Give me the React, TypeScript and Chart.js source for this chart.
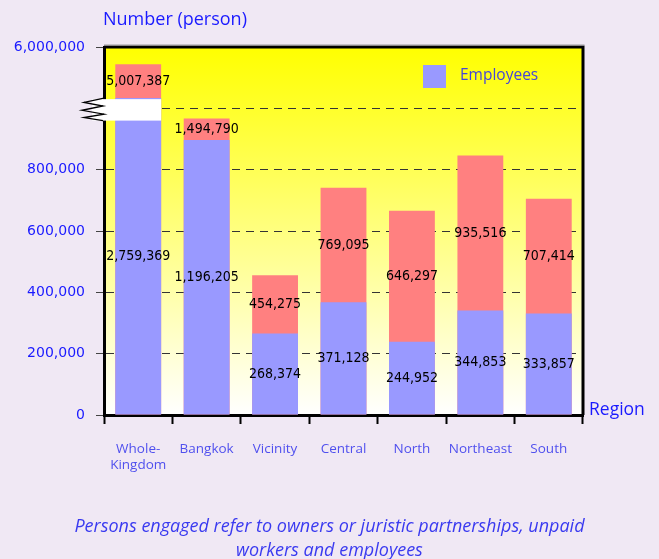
import { useEffect, useRef } from 'react';
import { Chart, registerables } from 'chart.js';

Chart.register(...registerables);

// ---------- data ----------
const categories: (string | string[])[] = [['Whole-', 'Kingdom'], 'Bangkok', 'Vicinity', 'Central', 'North', 'Northeast', 'South'];

// values printed on the bars
const personsEngaged = [5007387, 1494790, 454275, 769095, 646297, 935516, 707414];
const employees = [2759369, 1196205, 268374, 371128, 244952, 344853, 333857];

// bar heights as drawn on the original (broken, not-to-scale) axis
const personsEngagedBar = [1144000, 967000, 456000, 741000, 666000, 846000, 705000];
const employeesBar = [1034000, 897000, 266000, 368000, 239000, 341000, 331000];

// axis
const axisMin = 0;
const axisMax = 1200000;
const axisStep = 200000;
const breakValue = 1000000;
const topTickLabel = '6,000,000';
const breakBand = [960000, 1030000];

const seriesNames = ['Employees', 'Persons engaged'];
const yTitle = 'Number (person)';
const xTitle = 'Region';
const captionLines = ['Persons engaged refer to owners or juristic partnerships, unpaid', 'workers and employees'];

// ---------- styles ----------
const BLUE_BAR = '#9999FF';
const RED_BAR = '#FF8080';
const PAGE_BG = '#F0E8F4';
const AXIS_BLUE = '#1A1AFF';
const LABEL_BLUE = '#5050EE';
const VALUE_FONT = '"DejaVu Sans Condensed", "Liberation Sans", sans-serif';
const SANS = '"Open Sans", "Noto Sans", sans-serif';

const fmt = (v: number) => v.toLocaleString('en-US');

const decorPlugin = {
  id: 'decor',
  beforeDraw(chart: any) {
    const { ctx, chartArea: a } = chart;
    ctx.save();
    const g = ctx.createLinearGradient(0, a.top, 0, a.bottom);
    g.addColorStop(0, '#FFFF00');
    g.addColorStop(1, '#FFFFFF');
    ctx.fillStyle = g;
    ctx.fillRect(a.left, a.top, a.right - a.left, a.bottom - a.top);
    ctx.restore();
  },
  afterDatasetsDraw(chart: any) {
    const { ctx, chartArea: a, scales } = chart;
    const y = scales.y;
    const blueMeta = chart.getDatasetMeta(0);
    const redMeta = chart.getDatasetMeta(1);

    // break band on the first bar
    const first = blueMeta.data[0];
    const bTop = y.getPixelForValue(breakBand[1]);
    const bBot = y.getPixelForValue(breakBand[0]);
    ctx.save();
    ctx.fillStyle = '#FFFFFF';
    ctx.fillRect(a.left - 12, bTop, first.x + first.width / 2 - (a.left - 12), bBot - bTop);
    // zigzag
    const L = a.left - 22;
    const R = a.left;
    const h = bBot - bTop;
    const pts = [
      [R, bTop - 1], [L + 2, bTop + h * 0.15], [R - 1, bTop + h * 0.32], [L, bTop + h * 0.52],
      [R, bTop + h * 0.7], [L + 2, bTop + h * 0.86], [R - 1, bBot],
    ];
    ctx.strokeStyle = '#000';
    ctx.lineWidth = 1.3;
    ctx.beginPath();
    pts.forEach((p, i) => (i ? ctx.lineTo(p[0], p[1]) : ctx.moveTo(p[0], p[1])));
    ctx.stroke();

    // value labels
    ctx.font = `14px ${VALUE_FONT}`;
    ctx.fillStyle = '#000';
    ctx.textAlign = 'center';
    ctx.textBaseline = 'middle';
    for (let i = 0; i < categories.length; i++) {
      const b = blueMeta.data[i];
      const r = redMeta.data[i];
      ctx.fillText(fmt(personsEngaged[i]), r.x, (r.y + b.y) / 2);
      ctx.fillText(fmt(employees[i]), b.x, (b.y + b.base) / 2);
    }

    // top & right frame
    ctx.strokeStyle = '#000';
    ctx.lineWidth = 3;
    ctx.beginPath();
    ctx.moveTo(a.left, a.top);
    ctx.lineTo(a.right, a.top);
    ctx.lineTo(a.right, a.bottom);
    ctx.stroke();
    ctx.strokeStyle = '#9a9a9a';
    ctx.lineWidth = 1;
    ctx.beginPath();
    ctx.moveTo(a.left, a.top - 2);
    ctx.lineTo(a.right + 1.5, a.top - 2);
    ctx.stroke();

    // legend
    const lx = a.right - 160;
    const ly = a.top + 18;
    ctx.fillStyle = BLUE_BAR;
    ctx.fillRect(lx, ly, 23, 23);
    ctx.font = `15.5px ${SANS}`;
    ctx.fillStyle = '#4646D8';
    ctx.textAlign = 'left';
    ctx.textBaseline = 'middle';
    ctx.fillText(seriesNames[0], lx + 37, ly + 11);

    // axis titles
    ctx.fillStyle = AXIS_BLUE;
    ctx.font = `18px ${SANS}`;
    ctx.fillText(yTitle, a.left - 1, 20);
    ctx.font = `17.5px ${SANS}`;
    ctx.fillText(xTitle, a.right + 6, a.bottom - 5);
    ctx.restore();
  },
};

export default function App() {
  const ref = useRef<HTMLCanvasElement>(null);

  useEffect(() => {
    document.body.style.margin = '0';
    document.body.style.background = PAGE_BG;
    const canvas = ref.current!;
    const chart = new Chart(canvas, {
      type: 'bar',
      data: {
        labels: categories as any,
        datasets: [
          { label: seriesNames[0], data: employeesBar, backgroundColor: BLUE_BAR, borderWidth: 0 },
          { label: seriesNames[1], data: personsEngagedBar, backgroundColor: RED_BAR, borderWidth: 0 },
        ],
      },
      options: {
        animation: false,
        responsive: false,
        maintainAspectRatio: false,
        events: [],
        layout: { padding: { top: 47, right: 76, bottom: 84, left: 0 } },
        datasets: { bar: { categoryPercentage: 1, barPercentage: 0.67 } },
        plugins: { legend: { display: false }, tooltip: { enabled: false } },
        scales: {
          x: {
            stacked: true,
            afterFit: (s: any) => { s.height = 60; },
            grid: { offset: true, drawOnChartArea: false, drawTicks: true, tickLength: 9, tickWidth: 2, tickColor: '#000' },
            border: { display: true, color: '#000', width: 3 },
            ticks: { color: LABEL_BLUE, font: { family: SANS, size: 13.5 }, padding: 17, maxRotation: 0, autoSkip: false },
          },
          y: {
            stacked: false,
            min: axisMin,
            max: axisMax,
            afterFit: (s: any) => { s.width = 104; },
            grid: {
              color: (c: any) => (c.tick && (c.tick.value === axisMin || c.tick.value === axisMax) ? 'rgba(0,0,0,0)' : '#333'),
              lineWidth: 1,
              tickLength: 8,
              tickWidth: 1,
              tickColor: '#444',
            },
            border: { display: true, color: '#000', width: 3, dash: [8, 6] },
            ticks: {
              stepSize: axisStep,
              color: AXIS_BLUE,
              padding: 11,
              font: { family: '"DejaVu Sans", sans-serif', size: 14 },
              callback: (v: any) => (v === axisMax ? topTickLabel : v === breakValue ? '' : fmt(Number(v))),
            },
          },
        },
      },
      plugins: [decorPlugin],
    });
    return () => chart.destroy();
  }, []);

  return (
    <div style={{ position: 'relative', width: 659, height: 559, background: PAGE_BG, overflow: 'hidden' }}>
      <canvas ref={ref} width={659} height={559} style={{ display: 'block', width: 659, height: 559 }} />
      <div
        style={{
          position: 'absolute',
          top: 513,
          left: 0,
          width: 659,
          textAlign: 'center',
          fontFamily: '"Open Sans", "Noto Sans", sans-serif',
          fontStyle: 'italic',
          fontSize: 18,
          lineHeight: '24px',
          color: '#3A3AF0',
        }}
      >
        {captionLines[0]}
        <br />
        {captionLines[1]}
      </div>
    </div>
  );
}
